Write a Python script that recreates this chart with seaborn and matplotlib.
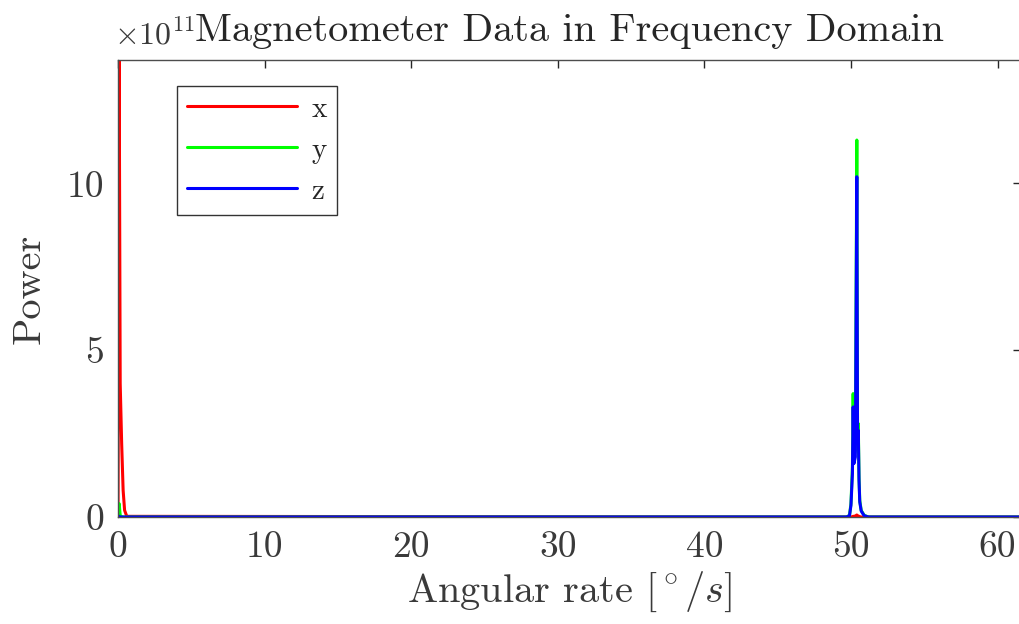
import numpy as np
import pandas as pd
import matplotlib
matplotlib.use("Agg")
import matplotlib.pyplot as plt
import seaborn as sns

# Frequency bins (deg/s) and spectral power (x 1e11) of the three axes
freq = [0.0, 0.08, 0.15, 0.25, 0.35, 0.45, 0.6, 49.7, 49.9, 50.0, 50.1, 50.15,
        50.2, 50.3, 50.4, 50.45, 50.5, 50.55, 50.6, 50.7, 50.9, 51.2, 62.5]
power_x = [0.0, 13.7, 4.0, 2.2, 0.8, 0.2, 0.02, 0.0, 0.0, 0.0, 0.01, 0.02,
           0.02, 0.03, 0.06, 0.04, 0.03, 0.02, 0.01, 0.0, 0.0, 0.0, 0.0]
power_y = [0.0, 0.4, 0.05, 0.0, 0.0, 0.0, 0.0, 0.0, 0.05, 0.4, 1.5, 3.7,
           1.8, 2.0, 11.3, 2.5, 2.8, 1.2, 0.5, 0.2, 0.05, 0.0, 0.0]
power_z = [0.0, 0.02, 0.0, 0.0, 0.0, 0.0, 0.0, 0.0, 0.04, 0.35, 1.3, 3.3,
           1.6, 1.8, 10.2, 2.3, 2.6, 1.1, 0.45, 0.18, 0.04, 0.0, 0.0]
axes_names = ["x", "y", "z"]
y_ticks = [0, 5, 10]
x_ticks = [0, 10, 20, 30, 40, 50, 60]

df = pd.DataFrame({
    "freq": freq * 3,
    "power": power_x + power_y + power_z,
    "axis": [a for a in axes_names for _ in freq],
})

sns.set_style("white")
plt.rcParams["font.family"] = ["cmr10"]
plt.rcParams["mathtext.fontset"] = "cm"
plt.rcParams["axes.unicode_minus"] = False

fig = plt.figure(figsize=(10.19, 6.24), dpi=100)
ax = fig.add_axes([118 / 1019, 1 - 517 / 624, (1021 - 118) / 1019, (517 - 60) / 624])

palette = {"x": "#ff0000", "y": "#00ff00", "z": "#0000ff"}
sns.lineplot(data=df, x="freq", y="power", hue="axis", palette=palette,
             linewidth=2.2, ax=ax, estimator=None, sort=False)

ax.set_xlim(0, 61.6)
ax.set_ylim(0, 13.7)
ax.set_xticks(x_ticks)
ax.set_yticks(y_ticks)
ax.tick_params(direction="in", length=6, width=1, top=True, right=True,
               labelsize=27, colors="#262626", pad=10)
for lbl in ax.get_xticklabels() + ax.get_yticklabels():
    lbl.set_color("#3a3a3a")
for s in ax.spines.values():
    s.set_color("#4d4d4d")
    s.set_linewidth(1.0)

ax.set_xlabel(r"Angular rate $[^\circ/s]$", fontsize=29, color="#3a3a3a", labelpad=4)
ax.set_ylabel("Power", fontsize=29, color="#3a3a3a", labelpad=14)
ax.set_title("Magnetometer Data in Frequency Domain", fontsize=29,
             color="#262626", pad=14)
# axis multiplier, tucked in just left of the title
fig.text(114 / 1019, 1 - 44 / 624, r"$\times 10^{11}$", fontsize=23,
         color="#3a3a3a", ha="left", va="baseline")

leg = ax.legend(loc="upper left", bbox_to_anchor=(59 / 903, 1 - 26 / 457),
                fontsize=21, handlelength=3.75, labelspacing=0.5,
                frameon=True, fancybox=False, borderpad=0.35, handletextpad=0.5,
                borderaxespad=0)
leg.get_frame().set_edgecolor("black")
leg.get_frame().set_linewidth(1.0)
for t in leg.get_texts():
    t.set_color("#262626")

fig.savefig("out.png", dpi=100)
